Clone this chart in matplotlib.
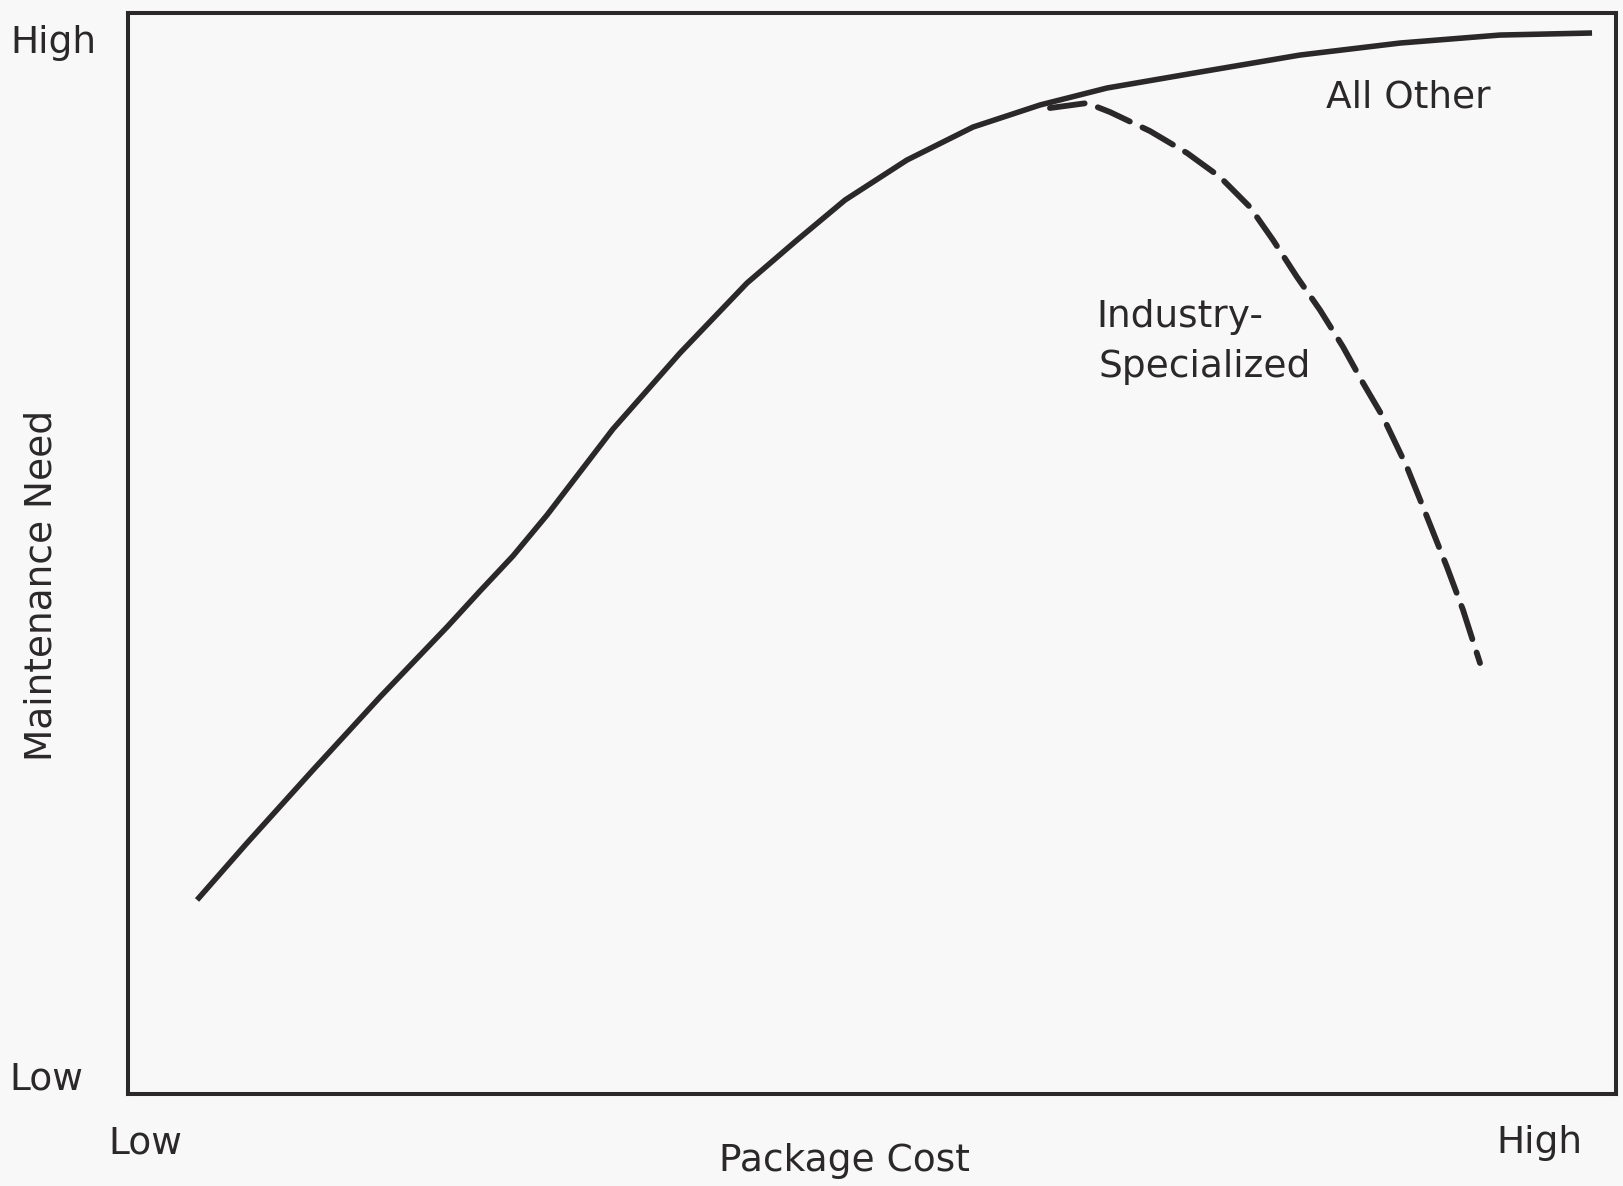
import matplotlib
matplotlib.use("Agg")
import matplotlib.pyplot as plt

# Relative scales (0 = low, 1 = high)
all_other_cost = [0.0464, 0.0800, 0.1243, 0.1694, 0.2144, 0.2366, 0.2587, 0.2816,
                  0.3259, 0.3710, 0.4160, 0.4489, 0.4819, 0.5235, 0.5679, 0.6129,
                  0.6579, 0.7204, 0.7876, 0.8548, 0.9220, 0.9839]
all_other_need = [0.1795, 0.2322, 0.2997, 0.3673, 0.4320, 0.4653, 0.4977, 0.5356,
                  0.6151, 0.6855, 0.7502, 0.7891, 0.8270, 0.8640, 0.8945, 0.9149,
                  0.9306, 0.9454, 0.9611, 0.9722, 0.9796, 0.9815]

industry_cost = [0.6196, 0.6445, 0.6599, 0.6868, 0.7117, 0.7339, 0.7540, 0.7695,
                 0.7856, 0.8011, 0.8166, 0.8300, 0.8434, 0.8595, 0.8730, 0.8864,
                 0.8972, 0.9086]
industry_need = [0.9121, 0.9167, 0.9084, 0.8908, 0.8705, 0.8483, 0.8205, 0.7900,
                 0.7558, 0.7252, 0.6910, 0.6577, 0.6263, 0.5800, 0.5338, 0.4875,
                 0.4477, 0.3987]

x_tick_labels = ["Low", "High"]
y_tick_labels = ["Low", "High"]
all_other_label = "All Other"
industry_label_lines = ["Industry-", "Specialized"]
x_title = "Package Cost"
y_title = "Maintenance Need"

ink = "#2b2829"
paper = "#f9f8f9"

W, H = 1623, 1186
fig = plt.figure(figsize=(W / 100, H / 100), dpi=100, facecolor=paper)
ax = fig.add_axes([128 / W, 1 - 1094 / H, 1488 / W, 1081 / H], facecolor=paper)
ax.set_xlim(0, 1)
ax.set_ylim(0, 1)
ax.set_xticks([])
ax.set_yticks([])
for sp in ax.spines.values():
    sp.set_linewidth(2.9)
    sp.set_color(ink)

ax.plot(all_other_cost, all_other_need, color=ink, lw=4.0,
        solid_joinstyle="round", solid_capstyle="butt")
ax.plot(industry_cost, industry_need, color=ink, lw=4.2,
        dashes=(6.0, 2.4), dash_capstyle="round", dash_joinstyle="round")

fs = 27


def fig_xy(px, py):
    return px / W, 1 - py / H


# Series labels (baseline anchored)
ax.text(*fig_xy(1408, 108), all_other_label, transform=fig.transFigure,
        fontsize=fs, color=ink, ha="center", va="baseline")
ax.text(*fig_xy(1180, 327), industry_label_lines[0], transform=fig.transFigure,
        fontsize=fs, color=ink, ha="center", va="baseline")
ax.text(*fig_xy(1205, 377), industry_label_lines[1], transform=fig.transFigure,
        fontsize=fs, color=ink, ha="center", va="baseline")

# Axis end labels
fig.text(*fig_xy(145, 1153), x_tick_labels[0], fontsize=fs, color=ink,
         ha="center", va="baseline")
fig.text(*fig_xy(1539, 1153), x_tick_labels[1], fontsize=fs, color=ink,
         ha="center", va="baseline")
fig.text(*fig_xy(9, 1089), y_tick_labels[0], fontsize=fs, color=ink,
         ha="left", va="baseline")
fig.text(*fig_xy(10, 53), y_tick_labels[1], fontsize=fs, color=ink,
         ha="left", va="baseline")

# Axis titles
fig.text(*fig_xy(844, 1171), x_title, fontsize=fs, color=ink,
         ha="center", va="baseline")
fig.text(*fig_xy(42, 585), y_title, fontsize=fs, color=ink,
         ha="center", va="center", rotation=90)

fig.savefig("out.png", dpi=100, facecolor=paper)
